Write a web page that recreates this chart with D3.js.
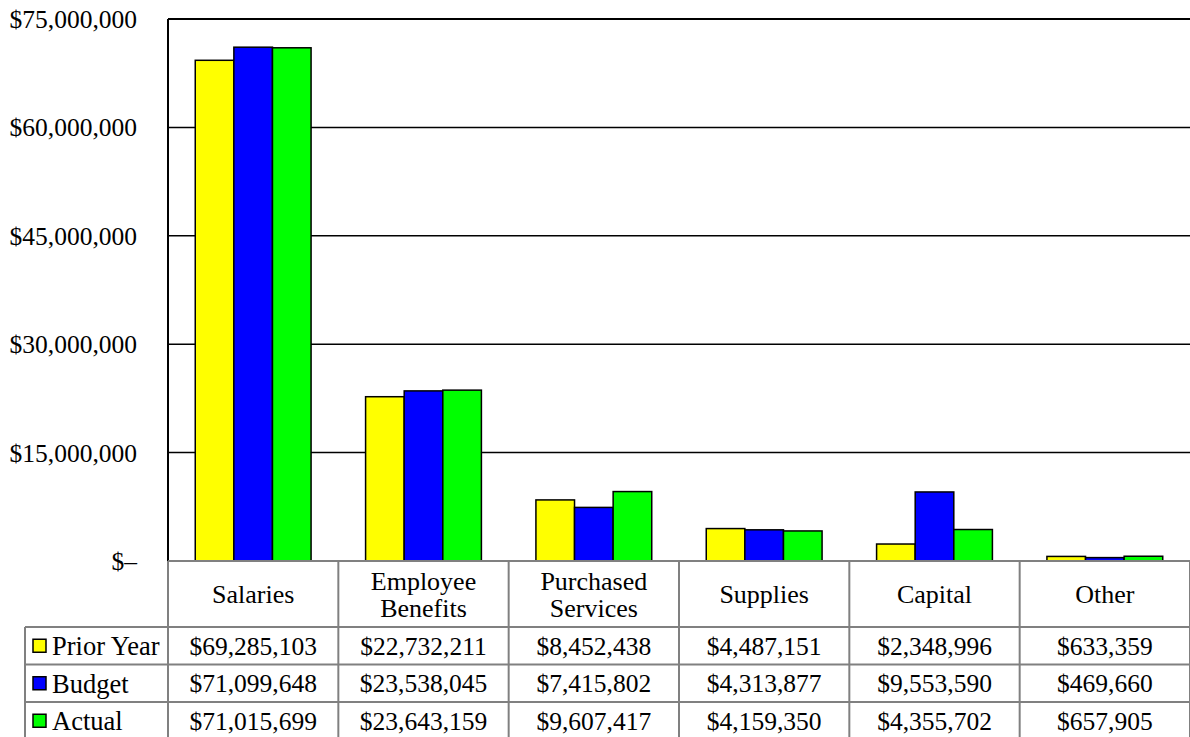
<!DOCTYPE html>
<html>
<head>
<meta charset="utf-8">
<script src="https://cdn.jsdelivr.net/npm/d3@7"></script>
<style>
  body { margin: 0; background: #fff; }
  svg { display: block; font-family: "Liberation Serif", "Times New Roman", serif; }
</style>
</head>
<body>
<svg id="chart" width="1190" height="737"></svg>
<script>
// categories and series
var categories = [['Salaries'], ['Employee', 'Benefits'], ['Purchased', 'Services'], ['Supplies'], ['Capital'], ['Other']];
var seriesNames = ['Prior Year', 'Budget', 'Actual'];
var seriesColors = ['#ffff00', '#0000ff', '#00ff00'];

var priorYear = [69285103, 22732211, 8452438, 4487151, 2348996, 633359];
var budget = [71099648, 23538045, 7415802, 4313877, 9553590, 469660];
var actual = [71015699, 23643159, 9607417, 4159350, 4355702, 657905];
var yTicks = [0, 15000000, 30000000, 45000000, 60000000, 75000000];

var values = [priorYear, budget, actual];

var svg = d3.select('#chart');
var plotL = 168, plotR = 1190, plotT = 19, plotB = 561;
var headerB = 627, rowH = 37.5, legendL = 25;
var grid = '#808080';
var fs = 25.5;

var y = d3.scaleLinear().domain([0, 75000000]).range([plotB, plotT]);
var x0 = d3.scaleBand().domain(d3.range(categories.length)).range([plotL, plotR]);
var bw = x0.bandwidth();
var x1 = d3.scaleBand().domain(d3.range(seriesNames.length)).range([bw * 0.16, bw * 0.84]);

var money = function(v) { return '$' + d3.format(',')(v); };

// gridlines
svg.append('g').selectAll('line')
  .data(yTicks.filter(function(d) { return d > 0; }))
  .enter().append('line')
  .attr('x1', plotL).attr('x2', plotR)
  .attr('y1', function(d) { return y(d); })
  .attr('y2', function(d) { return y(d); })
  .attr('stroke', '#000').attr('stroke-width', 1.5);

// y labels
svg.append('g').selectAll('text')
  .data(yTicks)
  .enter().append('text')
  .attr('x', 137)
  .attr('y', function(d) { return y(d); })
  .attr('dy', '0.35em')
  .attr('text-anchor', 'end')
  .attr('font-size', fs)
  .text(function(d) { return d === 0 ? '$\u2013' : money(d); });

// bars
var groups = svg.append('g').selectAll('g')
  .data(categories)
  .enter().append('g')
  .attr('transform', function(d, i) { return 'translate(' + x0(i) + ',0)'; });

groups.selectAll('rect')
  .data(function(d, i) { return values.map(function(s, k) { return { k: k, v: s[i] }; }); })
  .enter().append('rect')
  .attr('x', function(d) { return x1(d.k); })
  .attr('width', x1.bandwidth())
  .attr('y', function(d) { return y(d.v); })
  .attr('height', function(d) { return plotB - y(d.v); })
  .attr('fill', function(d) { return seriesColors[d.k]; })
  .attr('stroke', '#000').attr('stroke-width', 1.5);

// axis frame
svg.append('line').attr('x1', plotL).attr('x2', plotR).attr('y1', plotT).attr('y2', plotT)
  .attr('stroke', '#000').attr('stroke-width', 2);
svg.append('line').attr('x1', plotL).attr('x2', plotL).attr('y1', plotT).attr('y2', plotB)
  .attr('stroke', '#000').attr('stroke-width', 2);

// data table grid
var table = svg.append('g').attr('stroke', grid).attr('stroke-width', 2);
table.append('line').attr('x1', plotL).attr('x2', plotR).attr('y1', plotB).attr('y2', plotB);
for (var r = 0; r <= 3; r++) {
  table.append('line').attr('x1', legendL).attr('x2', plotR)
    .attr('y1', headerB + r * rowH).attr('y2', headerB + r * rowH);
}
table.append('line').attr('x1', legendL).attr('x2', legendL).attr('y1', headerB).attr('y2', 737);
d3.range(categories.length + 1).forEach(function(i) {
  var xx = i < categories.length ? x0(i) : plotR;
  table.append('line').attr('x1', xx).attr('x2', xx).attr('y1', plotB).attr('y2', 737);
});

// header labels
groups.append('text')
  .attr('text-anchor', 'middle')
  .attr('font-size', 26)
  .attr('x', bw / 2)
  .each(function(d) {
    var t = d3.select(this);
    var y0 = (plotB + headerB) / 2 - (d.length - 1) * 13.5;
    d.forEach(function(line, j) {
      t.append('tspan').attr('x', bw / 2).attr('y', y0 + j * 27).attr('dy', '0.35em').text(line);
    });
  });

// table rows
seriesNames.forEach(function(name, k) {
  var cy = headerB + k * rowH + rowH / 2;
  svg.append('rect')
    .attr('x', 33).attr('y', cy - 6.5).attr('width', 13).attr('height', 13)
    .attr('fill', seriesColors[k]).attr('stroke', '#000').attr('stroke-width', 1.5);
  svg.append('text')
    .attr('x', 52).attr('y', cy).attr('dy', '0.35em')
    .attr('font-size', 26.5)
    .text(name);
  svg.append('g').selectAll('text')
    .data(values[k])
    .enter().append('text')
    .attr('x', function(d, i) { return x0(i) + bw / 2; })
    .attr('y', cy).attr('dy', '0.35em')
    .attr('text-anchor', 'middle')
    .attr('font-size', fs)
    .text(function(d) { return money(d); });
});
</script>
</body>
</html>
